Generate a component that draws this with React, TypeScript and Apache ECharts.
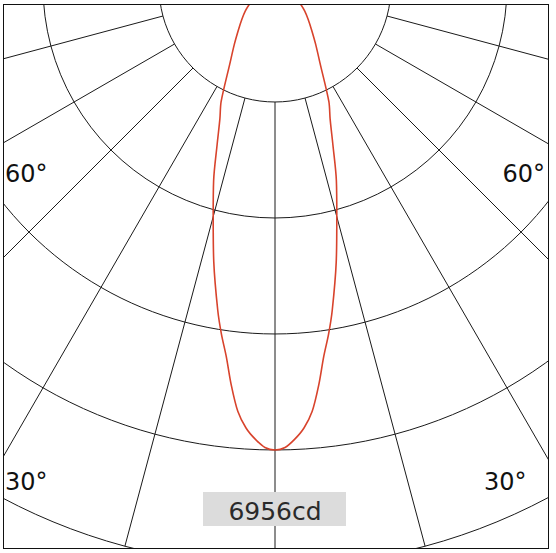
import React, { useEffect, useRef } from 'react';
import * as echarts from 'echarts';

// Luminous intensity (cd), symmetric around 0°
const angles = [0, 1.25, 2.5, 3.75, 5, 6.25, 7.5, 8.75, 10, 12.5, 15, 17.5, 20, 22.5, 25, 30, 35, 40, 45, 50, 55, 60, 65, 70, 75, 80, 85, 90];
const intensity = [6956, 6920, 6800, 6640, 6400, 6020, 5600, 5280, 4940, 4240, 3580, 3060, 2540, 2160, 1910, 1360, 1060, 850, 700, 580, 460, 350, 245, 150, 85, 40, 15, 0];
const maxLabel = '6956cd';
const ringMax = 8695; // outer ring = 125% of max
const angleLabels = ['60°', '30°'];

const CX = 271;
const CY = -19;

export default function App() {
  const ref = useRef<HTMLDivElement>(null);
  useEffect(() => {
    if (!ref.current) return;
    const chart = echarts.init(ref.current, undefined, { renderer: 'svg' });
    const data: number[][] = [];
    for (let i = angles.length - 1; i >= 0; i--) data.push([intensity[i], -angles[i]]);
    for (let i = 1; i < angles.length; i++) data.push([intensity[i], angles[i]]);
    const labelFont = { fontSize: 24, fontFamily: 'DejaVu Sans', fill: '#111' };
    chart.setOption({
      animation: false,
      polar: [
        { center: [CX, CY], radius: [116, 580] },
        { center: [CX, CY], radius: [0, 580] },
      ],
      angleAxis: [
        {
          polarIndex: 0, type: 'value', min: -180, max: 180, interval: 15, startAngle: 90, clockwise: true,
          axisLine: { show: false }, axisTick: { show: false }, axisLabel: { show: false },
          splitLine: { show: true, lineStyle: { color: '#1a1a1a', width: 1 } },
        },
        { polarIndex: 1, type: 'value', min: -180, max: 180, startAngle: 90, clockwise: true, show: false },
      ],
      radiusAxis: [
        {
          polarIndex: 0, type: 'value', min: 0, max: 4, interval: 1,
          axisLine: { show: false }, axisTick: { show: false }, axisLabel: { show: false },
          splitLine: { show: true, lineStyle: { color: '#1a1a1a', width: 1 } },
        },
        { polarIndex: 1, type: 'value', min: 0, max: ringMax, show: false },
      ],
      series: [
        {
          type: 'line', coordinateSystem: 'polar', polarIndex: 1, data,
          showSymbol: false, symbol: 'none', smooth: 0.3,
          lineStyle: { color: '#d8432c', width: 1.6 }, z: 5,
        },
      ],
      graphic: [
        { type: 'text', x: 1, y: 169, z: 10, style: { ...labelFont, text: angleLabels[0], align: 'left', verticalAlign: 'middle' } },
        { type: 'text', x: 541, y: 169, z: 10, style: { ...labelFont, text: angleLabels[0], align: 'right', verticalAlign: 'middle' } },
        { type: 'text', x: 1, y: 477, z: 10, style: { ...labelFont, text: angleLabels[1], align: 'left', verticalAlign: 'middle' } },
        { type: 'text', x: 480, y: 477, z: 10, style: { ...labelFont, text: angleLabels[1], align: 'left', verticalAlign: 'middle' } },
        { type: 'rect', x: 199, y: 487, z: 10, shape: { width: 143, height: 34 }, style: { fill: '#dcdcdc' } },
        { type: 'text', x: 271, y: 506, z: 11, style: { text: maxLabel, fontSize: 25, fontFamily: 'DejaVu Sans', fill: '#2a2a2a', align: 'center', verticalAlign: 'middle' } },
      ],
    });
    return () => chart.dispose();
  }, []);
  return (
    <div style={{ position: 'fixed', left: 3, top: 4, width: 546, height: 545, border: '1px solid #111', boxSizing: 'border-box', overflow: 'hidden', background: '#fff' }}>
      <div ref={ref} style={{ width: 544, height: 543 }} />
    </div>
  );
}
